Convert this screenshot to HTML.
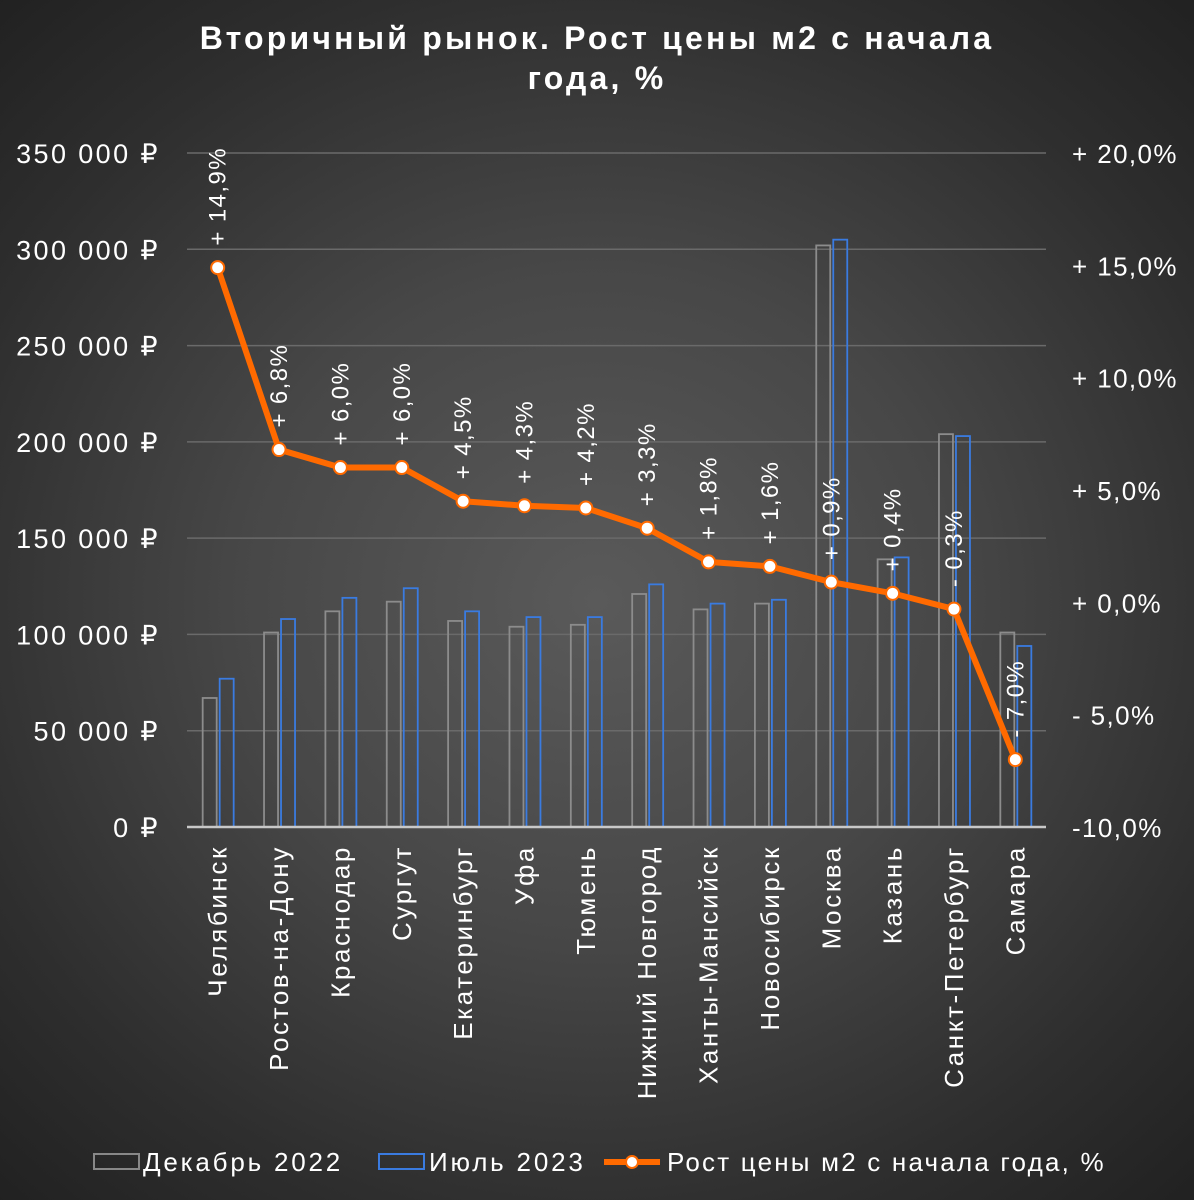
<!DOCTYPE html>
<html><head><meta charset="utf-8"><style>
html,body{margin:0;padding:0;width:1194px;height:1200px;overflow:hidden}
body{background:radial-gradient(ellipse 75% 70% at 50% 50%,#5a5a5a 0%,#474747 40%,#2e2e2e 75%,#202020 100%);font-family:"Liberation Sans",sans-serif}
svg text{font-family:"Liberation Sans",sans-serif;fill:#fff}
</style></head><body>
<svg id="chart" width="1194" height="1200" xmlns="http://www.w3.org/2000/svg">
<text x="597" y="49" text-anchor="middle" font-size="32" font-weight="bold" letter-spacing="3.2">Вторичный рынок. Рост цены м2 с начала</text>
<text x="597" y="89" text-anchor="middle" font-size="32" font-weight="bold" letter-spacing="3.2">года, %</text>
<g id="grid"></g>
<g id="yl"></g>
<g id="yr"></g>
<g id="bars"></g>
<line x1="187" y1="827" x2="1046" y2="827" stroke="#c8c8c8" stroke-width="2.5"/>
<g id="xl"></g>
<g id="line"></g>
<g>
<rect x="94" y="1154" width="45" height="15" fill="none" stroke="#888" stroke-width="2"/>
<text x="143" y="1171" font-size="26" letter-spacing="2.8">Декабрь 2022</text>
<rect x="379" y="1154" width="45" height="15" fill="none" stroke="#3a7be0" stroke-width="2"/>
<text x="429" y="1171" font-size="26" letter-spacing="2.8">Июль 2023</text>
<line x1="604" y1="1162" x2="660" y2="1162" stroke="#ff6a00" stroke-width="6"/>
<circle cx="632" cy="1162" r="6" fill="#fff" stroke="#ff6a00" stroke-width="2"/>
<text x="667" y="1171" font-size="26" letter-spacing="2.2">Рост цены м2 с начала года, %</text>
</g>
</svg>
<script>
const categories=["Челябинск","Ростов-на-Дону","Краснодар","Сургут","Екатеринбург","Уфа","Тюмень","Нижний Новгород","Ханты-Мансийск","Новосибирск","Москва","Казань","Санкт-Петербург","Самара"];
const dec2022=[67000,101000,112000,117000,107000,104000,105000,121000,113000,116000,302000,139000,204000,101000];
const jul2023=[77000,108000,119000,124000,112000,109000,109000,126000,116000,118000,305000,140000,203000,94000];
const growth=[14.9,6.8,6.0,6.0,4.5,4.3,4.2,3.3,1.8,1.6,0.9,0.4,-0.3,-7.0];
const growthLabels=["+ 14,9%","+ 6,8%","+ 6,0%","+ 6,0%","+ 4,5%","+ 4,3%","+ 4,2%","+ 3,3%","+ 1,8%","+ 1,6%","+ 0,9%","+ 0,4%","- 0,3%","- 7,0%"];
const leftTicks=[0,50000,100000,150000,200000,250000,300000,350000];
const leftTickLabels=["0 ₽","50 000 ₽","100 000 ₽","150 000 ₽","200 000 ₽","250 000 ₽","300 000 ₽","350 000 ₽"];
const rightTicks=[-10,-5,0,5,10,15,20];
const rightTickLabels=["-10,0%","- 5,0%","+ 0,0%","+ 5,0%","+ 10,0%","+ 15,0%","+ 20,0%"];
const NS="http://www.w3.org/2000/svg";
const X0=187,X1=1046,Y0=827,Y1=153;
const step=(X1-X0)/categories.length;
const xC=i=>X0+step*(i+0.5);
const yL=v=>Y0-(v/350000)*(Y0-Y1);
const yR=v=>Y0-((v+10)/30)*(Y0-Y1);
function mk(tag,attrs,parent){const e=document.createElementNS(NS,tag);for(const k in attrs)e.setAttribute(k,attrs[k]);parent.appendChild(e);return e;}
const grid=document.getElementById('grid'),yl=document.getElementById('yl'),yr=document.getElementById('yr'),bars=document.getElementById('bars'),xl=document.getElementById('xl'),line=document.getElementById('line');
leftTicks.forEach((t,i)=>{
  if(t>0){const g=mk('line',{x1:X0,x2:X1,y1:yL(t),y2:yL(t),stroke:'#6a6a6a','stroke-width':1.5},grid);
  
  }
  const tx=mk('text',{x:160,y:yL(t)+10,'text-anchor':'end','font-size':27,'letter-spacing':2.4},yl);tx.textContent=leftTickLabels[i];
  
  
});
rightTicks.forEach((t,i)=>{
  const tx=mk('text',{x:1072,y:yR(t)+10,'font-size':26,'letter-spacing':1.4},yr);tx.textContent=rightTickLabels[i];
  
  
});
categories.forEach((c,i)=>{
  const cx=xC(i);
  const b1=mk('rect',{x:cx-15,y:yL(dec2022[i]),width:14,height:Y0-yL(dec2022[i]),fill:'none',stroke:'#8c8c8c','stroke-width':1.8},bars);
  
  
  const b2=mk('rect',{x:cx+2,y:yL(jul2023[i]),width:14,height:Y0-yL(jul2023[i]),fill:'none',stroke:'#3a7be0','stroke-width':1.8},bars);
  
  
  const t=mk('text',{x:0,y:0,'text-anchor':'end','font-size':26,'letter-spacing':2.6,transform:`translate(${cx+9},845) rotate(-90)`},xl);t.textContent=c;
  
  
});
const pts=growth.map((g,i)=>[xC(i),yR(g)]);
const pl=mk('polyline',{points:pts.map(p=>p.join(',')).join(' '),fill:'none',stroke:'#ff6a00','stroke-width':6,'stroke-linejoin':'round'},line);


pts.forEach((p,i)=>{
  const c=mk('circle',{cx:p[0],cy:p[1],r:6.5,fill:'#fff',stroke:'#ff6a00','stroke-width':2},line);
  
  
  const t=mk('text',{x:0,y:0,'font-size':24,'letter-spacing':1.4,transform:`translate(${p[0]+8},${p[1]-22}) rotate(-90)`},line);t.textContent=growthLabels[i];
  
  
});
</script>
</body></html>
